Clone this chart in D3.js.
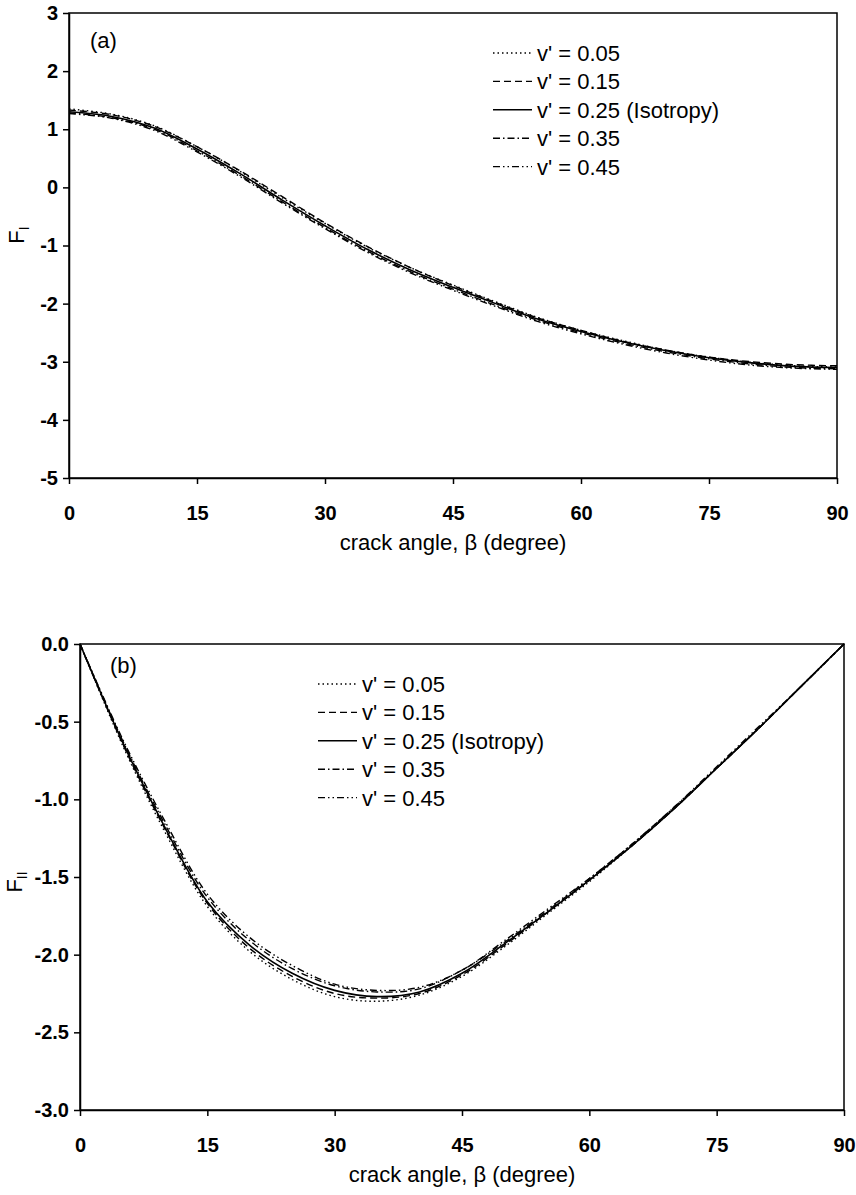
<!DOCTYPE html>
<html>
<head>
<meta charset="utf-8">
<script src="https://cdn.jsdelivr.net/npm/d3@7"></script>
<style>
  body { margin: 0; background: #fff; }
  text { font-family: "Liberation Sans", Arial, sans-serif; fill: #000; }
  .tick text { font-size: 20px; font-weight: bold; }
  .domain, .tick line { stroke: #000; stroke-width: 1.5; }
</style>
</head>
<body>
<script>
const W = 856;
const H = 1195;

// crack angle (degree)
const beta = [0, 5, 10, 15, 20, 25, 30, 35, 40, 45, 50, 55, 60, 65, 70, 75, 80, 85, 90];
const xTicks = [0, 15, 30, 45, 60, 75, 90];

const seriesNames = ["v' = 0.05", "v' = 0.15", "v' = 0.25 (Isotropy)", "v' = 0.35", "v' = 0.45"];
const dashes = ["1.5,3", "7,4", null, "7,3,1.5,3", "7,3,1.5,3,1.5,3"];

// panel (a) F_I
const fI_005 = [1.35, 1.26, 1.06, 0.70, 0.28, -0.18, -0.62, -1.03, -1.38, -1.68, -1.97, -2.24, -2.46, -2.64, -2.80, -2.92, -3.01, -3.07, -3.09];
const fI_015 = [1.33, 1.25, 1.05, 0.70, 0.29, -0.16, -0.61, -1.02, -1.38, -1.69, -1.98, -2.25, -2.46, -2.65, -2.80, -2.92, -3.00, -3.05, -3.07];
const fI_025 = [1.30, 1.22, 1.02, 0.66, 0.24, -0.22, -0.66, -1.07, -1.42, -1.72, -2.00, -2.27, -2.48, -2.66, -2.81, -2.93, -3.02, -3.08, -3.10];
const fI_035 = [1.28, 1.20, 1.00, 0.63, 0.21, -0.25, -0.69, -1.10, -1.45, -1.75, -2.03, -2.29, -2.50, -2.68, -2.83, -2.95, -3.04, -3.10, -3.12];
const fI_045 = [1.27, 1.19, 0.98, 0.61, 0.19, -0.27, -0.71, -1.12, -1.47, -1.77, -2.05, -2.31, -2.52, -2.70, -2.85, -2.97, -3.06, -3.11, -3.13];
const yTicksA = [-5, -4, -3, -2, -1, 0, 1, 2, 3];

// panel (b) F_II
const fII_005 = [0, -0.65, -1.21, -1.69, -1.98, -2.16, -2.27, -2.30, -2.26, -2.14, -1.95, -1.74, -1.53, -1.30, -1.06, -0.80, -0.54, -0.27, 0];
const fII_015 = [0, -0.64, -1.19, -1.67, -1.96, -2.14, -2.25, -2.28, -2.25, -2.13, -1.94, -1.73, -1.52, -1.30, -1.06, -0.80, -0.54, -0.27, 0];
const fII_025 = [0, -0.63, -1.18, -1.66, -1.94, -2.12, -2.23, -2.27, -2.24, -2.12, -1.93, -1.73, -1.52, -1.30, -1.06, -0.80, -0.54, -0.27, 0];
const fII_035 = [0, -0.62, -1.16, -1.63, -1.91, -2.09, -2.20, -2.24, -2.22, -2.10, -1.92, -1.72, -1.51, -1.29, -1.05, -0.80, -0.54, -0.27, 0];
const fII_045 = [0, -0.61, -1.14, -1.61, -1.89, -2.07, -2.19, -2.23, -2.21, -2.10, -1.91, -1.71, -1.51, -1.29, -1.05, -0.79, -0.53, -0.27, 0];
const yTicksB = [-3, -2.5, -2, -1.5, -1, -0.5, 0];

const svg = d3.select("body").append("svg").attr("width", W).attr("height", H);

const drawPanel = (p) => {
  const xScale = d3.scaleLinear().domain([0, 90]).range([p.l, p.r]);
  const yScale = d3.scaleLinear().domain(p.yDomain).range([p.b, p.t]);
  const g = svg.append("g");

  // frame (top + right)
  g.append("rect")
    .attr("x", p.l).attr("y", p.t)
    .attr("width", p.r - p.l).attr("height", p.b - p.t)
    .attr("fill", "none").attr("stroke", "#000").attr("stroke-width", 1.5);

  // axes
  g.append("g")
    .attr("transform", `translate(0, ${p.b})`)
    .call(d3.axisBottom(xScale).tickValues(xTicks).tickSize(6).tickSizeOuter(0).tickPadding(22).tickFormat(d3.format("d")));
  g.append("g")
    .attr("transform", `translate(${p.l}, 0)`)
    .call(
      d3.axisLeft(yScale).tickValues(p.yTicks).tickSize(6).tickSizeOuter(0).tickPadding(5)
        .tickFormat((d) => d3.format(p.fmt)(d).replace("−", "-"))
    );

  // curves
  const line = d3.line()
    .x((d, i) => xScale(beta[i]))
    .y((d) => yScale(d))
    .curve(d3.curveCatmullRom);
  p.series.forEach((s, k) => {
    g.append("path")
      .attr("d", line(s))
      .attr("fill", "none")
      .attr("stroke", "#000")
      .attr("stroke-width", k === 2 ? 1.6 : 1.4)
      .attr("stroke-dasharray", dashes[k]);
  });

  // axis titles
  g.append("text")
    .attr("x", (p.l + p.r) / 2).attr("y", p.b + 72)
    .attr("text-anchor", "middle")
    .style("font-size", "22px")
    .text("crack angle, β (degree)");
  const yl = g.append("text")
    .attr("transform", `translate(${p.l - p.yLabOff}, ${p.yLabY}) rotate(-90)`)
    .attr("text-anchor", "middle")
    .style("font-size", "22px");
  yl.append("tspan").text("F");
  yl.append("tspan").attr("dy", 5).style("font-size", "14px").text(p.sub);

  // panel tag
  g.append("text")
    .attr("x", p.tagX).attr("y", p.t + p.tagDy)
    .style("font-size", "22px")
    .text(p.tag);

  // legend
  const leg = g.append("g");
  seriesNames.forEach((name, k) => {
    const y = p.t + 40 + k * 28.4;
    leg.append("line")
      .attr("x1", p.legX).attr("x2", p.legX + 39)
      .attr("y1", y).attr("y2", y)
      .attr("stroke", "#000").attr("stroke-width", 1.4)
      .attr("stroke-dasharray", dashes[k]);
    leg.append("text")
      .attr("x", p.legX + 44).attr("y", y + 8)
      .style("font-size", "22px")
      .text(name);
  });
};

drawPanel({
  l: 69, r: 837, t: 13, b: 478,
  yDomain: [-5, 3], yTicks: yTicksA, fmt: "d",
  series: [fI_005, fI_015, fI_025, fI_035, fI_045],
  sub: "I", yLabOff: 45, yLabY: 235,
  tag: "(a)", tagX: 90, tagDy: 35,
  legX: 493
});

drawPanel({
  l: 80, r: 844, t: 644, b: 1110,
  yDomain: [-3, 0], yTicks: yTicksB, fmt: ".1f",
  series: [fII_005, fII_015, fII_025, fII_035, fII_045],
  sub: "II", yLabOff: 58, yLabY: 882,
  tag: "(b)", tagX: 110, tagDy: 29,
  legX: 318
});
</script>
</body>
</html>
